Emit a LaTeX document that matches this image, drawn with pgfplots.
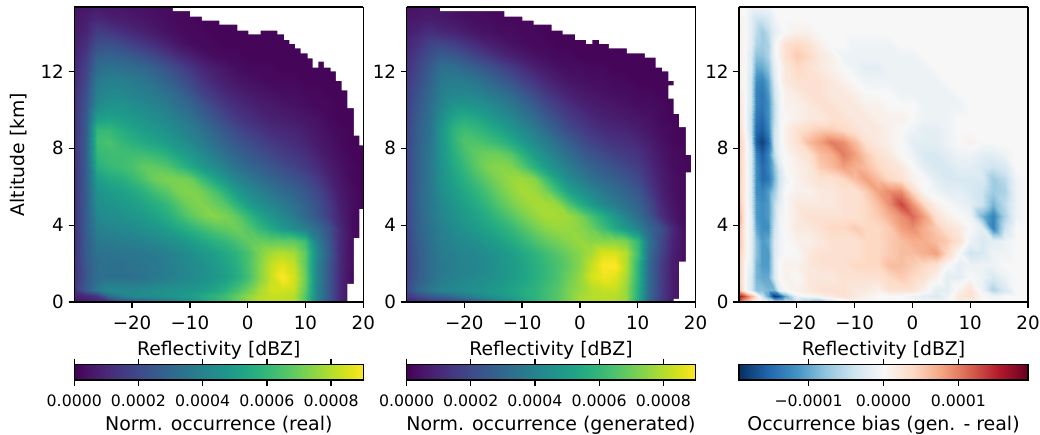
\documentclass[border=0pt]{standalone}
\usepackage{fontspec}
\setmainfont{DejaVu Sans}
\usepackage{pgfplots}
\usepackage{pgfplotstable}
\pgfplotsset{compat=1.18}
\pgfplotstableread[header=true]{
y -30 -28 -26 -24 -22 -20 -18 -16 -14 -12 -10 -8 -6 -4 -2 0 2 4 6 8 10 12 14 16 18 20
15.36 4 5 6 5 5 4 4 3 3 2 2 1 1 1 1 1 1 1 1 1 1 1 1 1 1 1
14.72 5 7 10 8 7 6 5 4 3 2 2 1 1 1 1 1 1 1 1 1 1 1 1 1 1 1
14.08 6 9 16 15 12 10 8 6 4 3 2 2 1 1 1 1 1 1 1 1 1 1 1 1 1 1
13.44 7 12 21 22 20 17 14 11 8 5 3 2 2 1 1 1 1 1 1 1 1 1 1 1 1 1
12.8 8 15 27 28 27 25 22 19 15 11 8 5 3 2 2 1 1 1 1 1 1 1 1 1 1 1
12.16 9 18 31 34 33 32 30 27 23 19 14 10 7 5 3 2 2 2 1 1 1 1 1 1 1 1
11.52 10 20 36 39 39 37 35 32 28 24 19 14 10 7 5 4 3 2 2 2 1 1 1 1 1 1
10.88 11 22 39 42 42 40 38 36 33 29 24 18 14 10 8 6 5 4 3 3 2 2 1 1 1 1
10.24 12 24 42 46 46 44 42 40 37 33 29 24 19 14 11 9 7 6 5 4 3 2 2 1 1 1
9.6 12 25 50 52 50 48 46 44 41 38 34 29 24 19 15 12 10 8 7 6 5 4 2 1 1 1
8.96 12 26 60 60 56 53 50 48 45 42 38 34 29 24 20 16 14 11 10 9 7 5 3 2 1 1
8.32 12 27 62 64 60 57 54 52 49 46 42 38 33 28 24 21 18 15 13 11 9 6 4 2 1 1
7.68 12 27 60 62 62 62 62 60 57 52 48 43 38 33 29 25 22 19 16 14 12 8 5 3 1 1
7.04 12 27 56 60 62 64 68 68 66 61 55 49 44 39 34 30 27 24 21 18 15 11 7 4 2 1
6.4 12 27 50 54 56 60 65 70 72 72 70 62 54 47 41 37 33 29 26 23 20 15 9 5 2 1
5.76 12 27 46 49 51 54 58 63 67 72 73 71 65 57 49 43 39 35 31 28 24 19 12 6 3 1
5.12 12 27 44 46 48 50 53 56 60 66 71 73 70 66 58 50 45 41 37 33 28 22 15 7 3 1
4.48 12 27 42 44 45 47 49 52 56 61 67 71 74 72 68 60 53 47 42 37 30 24 16 8 3 1
3.84 12 27 39 41 42 43 45 47 50 54 58 62 66 68 70 66 60 54 48 43 38 32 22 10 3 1
3.2 12 26 36 37 38 39 40 42 44 46 49 53 57 60 64 68 69 68 68 68 62 38 24 10 3 1
2.56 12 26 34 34 35 35 36 37 39 41 44 47 50 54 58 64 72 78 80 78 68 42 26 10 3 1
1.92 12 25 32 33 33 34 35 36 38 40 43 45 48 52 56 64 73 82 86 82 68 40 24 10 3 1
1.28 12 24 32 33 33 33 34 36 38 40 42 44 47 50 55 63 73 83 90 84 70 40 24 10 2 1
0.64 13 26 36 42 42 42 43 44 45 46 47 49 52 57 63 70 78 84 84 82 68 40 24 10 2 1
0.3 8 10 14 30 38 42 43 44 46 47 50 54 58 62 68 75 80 82 82 80 66 40 24 10 2 1
0 5 6 8 12 20 22 26 30 34 38 44 50 56 62 68 75 80 82 82 80 66 40 22 8 2 1
}\tableReal
\pgfplotstableread[header=true]{
y -30 -28 -26 -24 -22 -20 -18 -16 -14 -12 -10 -8 -6 -4 -2 0 2 4 6 8 10 12 14 16 18 20
15.36 4 5 5 5 4 3 3 2 2 2 1 1 1 1 1 1 1 1 1 1 1 1 1 1 1 1
14.72 5 6 7 6 5 4 3 3 2 2 2 1 1 1 1 1 1 1 1 1 1 1 1 1 1 1
14.08 7 9 12 10 9 7 5 4 3 3 2 2 1 1 1 1 1 1 1 1 1 1 1 1 1 1
13.44 9 13 18 19 17 14 11 8 6 4 3 2 2 1 1 1 1 1 1 1 1 1 1 1 1 1
12.8 11 16 22 26 25 22 18 15 11 8 6 4 3 2 2 1 1 1 1 1 1 1 1 1 1 1
12.16 13 19 26 33 33 30 27 24 20 16 12 8 6 4 3 3 2 2 1 1 1 1 1 1 1 1
11.52 15 21 28 36 38 37 35 31 27 23 18 14 10 7 5 4 3 3 2 2 1 1 1 1 1 1
10.88 16 23 30 38 41 41 40 37 34 30 25 20 15 11 8 6 5 4 3 3 2 2 1 1 1 1
10.24 17 25 32 40 46 47 46 44 40 36 31 26 20 16 12 9 7 6 5 4 3 3 2 1 1 1
9.6 18 26 33 44 53 56 54 50 46 42 37 32 26 21 16 13 10 8 7 6 5 4 2 1 1 1
8.96 19 27 34 47 58 62 60 57 53 48 43 38 32 26 21 17 14 11 10 9 7 5 3 2 1 1
8.32 19 27 35 47 58 65 65 63 60 55 49 43 38 32 27 22 18 15 13 12 10 7 4 2 1 1
7.68 20 28 36 47 56 63 68 70 70 66 58 50 44 38 32 27 23 20 17 15 13 9 5 3 2 1
7.04 20 28 36 46 54 60 67 72 74 73 67 58 50 44 38 33 28 25 22 19 16 11 6 3 2 1
6.4 20 28 36 45 52 57 63 68 73 76 77 74 63 52 44 39 34 30 27 24 20 13 7 4 2 1
5.76 20 29 36 44 49 54 59 64 70 75 78 77 72 62 52 46 41 36 32 28 24 16 8 4 2 1
5.12 20 29 35 42 47 51 55 60 66 71 75 78 78 76 66 56 49 42 37 33 28 20 10 5 2 1
4.48 20 28 35 41 45 48 52 56 61 66 71 75 78 78 77 72 64 56 48 40 32 24 12 6 2 1
3.84 19 28 34 39 43 46 49 52 56 60 65 70 74 76 76 74 70 62 54 47 40 30 22 10 3 1
3.2 19 27 33 38 41 43 45 48 51 55 59 64 68 71 74 76 74 74 74 72 60 34 20 9 3 1
2.56 18 26 32 37 39 41 42 44 47 50 54 58 62 66 70 74 78 85 85 80 62 32 18 8 3 1
1.92 18 26 32 36 38 40 41 43 46 49 52 56 60 64 68 74 82 90 92 80 58 30 16 7 3 1
1.28 18 26 32 37 39 41 42 44 46 49 52 56 60 64 70 76 84 88 86 78 58 30 16 7 3 1
0.64 20 30 36 40 42 44 46 47 49 52 55 58 62 66 72 76 80 82 82 76 56 30 16 7 2 1
0.3 14 20 25 28 32 36 40 44 47 50 54 58 62 66 72 78 80 81 80 76 56 30 16 7 2 1
0 8 10 12 14 16 20 26 32 38 44 50 56 62 66 72 78 80 80 80 76 54 28 14 5 2 1
}\tableGen
\pgfplotstableread[header=true]{
y -30 -29 -28 -27 -26 -25 -24 -23 -22 -20 -18 -16 -14 -12 -10 -8 -6 -4 -2 0 2 4 6 8 10 12 14 16 18 20
15.36 0 0 -1 -1 -1 -1 0 0 0 0 0 0 0 0 0 0 0 0 0 0 0 0 0 0 0 0 0 0 0 0
14.72 1 0 -2 -4 -4 -3 -1 0 0 0 0 0 0 0 0 0 0 0 0 0 0 0 0 0 0 0 0 0 0 0
14.08 1 0 -2 -5 -7 -5 -2 -1 0 1 1 0 0 0 0 0 0 0 0 0 0 0 0 0 0 0 0 0 0 0
13.44 1 0 -2 -6 -7 -6 -1 1 3 4 3 1 0 0 -1 -1 -1 -1 0 0 0 0 0 0 0 0 0 0 0 0
12.8 1 0 -3 -8 -8 -6 -1 1 3 5 4 2 1 -1 -1 -1 -1 -1 -1 -1 0 0 0 0 0 0 0 0 0 0
12.16 1 0 -3 -10 -10 -8 -2 0 2 4 3 2 1 0 -1 -2 -2 -1 -1 -1 -1 0 0 0 0 0 0 0 0 0
11.52 1 0 -4 -12 -13 -10 -3 0 2 3 3 3 2 1 0 -1 -1 -1 -1 -1 -1 -1 0 0 0 0 0 0 0 0
10.88 2 0 -4 -13 -14 -11 -4 -1 1 2 3 3 2 2 1 0 0 0 -1 -1 -1 -1 -1 0 0 0 0 0 0 0
10.24 3 0 -4 -13 -14 -12 -5 -1 1 1 2 3 3 2 2 1 1 0 0 0 -1 -1 -1 -1 0 0 0 0 0 0
9.6 3 0 -5 -14 -15 -12 -5 -1 0 1 2 2 3 3 2 2 1 1 1 0 -1 -1 -1 0 0 0 0 0 0 0
8.96 4 0 -5 -15 -16 -13 -4 -1 1 3 4 5 5 4 3 2 2 1 0 -1 -2 -2 -1 0 0 0 0 0 0 0
8.32 5 1 -4 -16 -18 -15 -4 -1 1 3 6 8 10 9 6 3 2 1 0 -2 -2 -2 -1 0 1 0 0 0 0 0
7.68 5 1 -3 -13 -16 -13 -5 -1 0 2 3 6 7 10 8 5 3 2 0 -1 -3 -3 -2 -1 -1 -2 -2 -1 0 0
7.04 5 1 -3 -12 -15 -13 -8 -3 0 1 2 5 6 8 7 6 4 3 2 0 -2 -3 -3 -2 -2 -3 -4 -3 0 0
6.4 5 1 -3 -12 -15 -14 -9 -4 -1 1 2 3 3 4 6 8 6 4 3 1 0 -2 -3 -3 -3 -3 -7 -5 -1 0
5.76 5 1 -3 -12 -13 -11 -7 -3 0 1 1 2 2 3 3 5 8 9 9 4 0 -1 -2 -2 -3 -4 -7 -6 -1 0
5.12 6 1 -3 -11 -12 -11 -5 -2 0 2 2 2 2 3 3 4 6 9 13 9 4 1 0 -1 -2 -4 -9 -5 -1 0
4.48 7 1 -2 -11 -12 -11 -5 -1 0 2 3 3 3 3 3 4 5 7 9 11 8 3 1 0 -1 -9 -13 -6 -1 0
3.84 6 1 -2 -10 -12 -12 -4 -1 0 2 2 3 4 4 5 4 4 5 8 9 7 5 3 2 0 -2 -13 -4 0 0
3.2 6 1 -2 -8 -11 -10 -3 -1 0 1 1 2 3 3 3 4 4 5 6 7 7 6 5 3 -1 -3 -2 -1 0 0
2.56 5 1 -2 -8 -11 -11 -3 -1 0 0 2 3 3 3 3 4 4 5 6 6 7 8 4 0 -4 -3 -1 -1 0 0
1.92 5 0 -2 -9 -11 -11 -3 0 1 1 2 3 3 3 4 4 4 6 6 5 4 3 0 -2 -1 -1 -1 0 0 0
1.28 5 0 -3 -9 -10 -10 -3 0 1 0 2 2 2 3 3 3 3 4 5 4 3 1 -2 -2 0 -1 -3 -1 0 0
0.64 6 0 -3 -8 -8 -9 -9 -2 0 1 2 3 3 3 2 2 1 3 3 3 1 -2 -2 1 3 -1 -6 -3 0 0
0.3 16 12 7 3 -4 -10 -19 -17 -10 -1 0 1 2 3 2 1 0 0 0 -1 -2 -3 -1 2 3 0 -1 0 0 0
0 12 6 3 0 -1 -2 -3 -4 -4 -4 -8 -10 -5 -2 0 0 0 0 0 0 -1 0 0 2 1 0 0 0 0 0
}\tableBias
\newcommand{\buildcoords}[2]{%
  \pgfplotstablegetrowsof{#1}\pgfmathtruncatemacro\nr{\pgfplotsretval-1}%
  \pgfplotstablegetcolsof{#1}\pgfmathtruncatemacro\nc{\pgfplotsretval-1}%
  \gdef#2{}%
  \pgfplotsforeachungrouped \r in {0,...,\nr}{%
    \pgfplotstablegetelem{\r}{[index]0}\of{#1}\let\yv\pgfplotsretval
    \pgfplotsforeachungrouped \c in {1,...,\nc}{%
      \pgfplotstablegetelem{\r}{[index]\c}\of{#1}\let\zv\pgfplotsretval
      \pgfplotstablegetcolumnnamebyindex{\c}\of{#1}\to\xv
      \xdef#2{#2 (\xv,\yv,\zv)}%
    }%
  }%
}
\buildcoords{\tableReal}{\coordsReal}
\buildcoords{\tableGen}{\coordsGen}
\buildcoords{\tableBias}{\coordsBias}
\pgfplotsset{
  colormap={rdbu}{rgb255=(5,48,97) rgb255=(33,102,172) rgb255=(67,147,195) rgb255=(146,197,222) rgb255=(209,229,240) rgb255=(247,247,247) rgb255=(253,219,199) rgb255=(244,165,130) rgb255=(214,96,77) rgb255=(178,24,43) rgb255=(103,0,31)},
  panel/.style={
    scale only axis, width=216.75pt, height=221.25pt,
    anchor=south west, view={0}{90},
    xmin=-30, xmax=20, ymin=0, ymax=15.36,
    xtick={-20,-10,0,10,20}, xticklabels={−20,−10,0,10,20},
    ytick={0,4,8,12}, yticklabels={0,4,8,12},
    tick pos=left, tick align=outside,
    axis on top, axis line style={line width=1pt}, tick style={line width=1pt, black},
    major tick length=4.3pt,
    tick label style={font=\fontsize{13.7pt}{15pt}\selectfont},
    xticklabel style={yshift=-2.4pt},
    label style={font=\fontsize{14.1pt}{16pt}\selectfont},
    xlabel={Reflectivity [dBZ]},
    xlabel style={at={(0.5,0)}, anchor=north, yshift=-26pt},
    colorbar horizontal,
  },
  cbar/.style={
    at={(0,-0.2115)}, anchor=north west,
    scale only axis, width=216.75pt, height=11.6pt,
    axis line style={line width=1pt}, tick style={line width=1pt, black},
    major tick length=4.3pt, tick align=outside,
    xticklabel pos=lower,
    tick label style={font=\fontsize{11.8pt}{13pt}\selectfont},
    xticklabel style={yshift=-3.2pt},
    label style={font=\fontsize{14.2pt}{16pt}\selectfont},
    xlabel style={at={(0.5,0)}, anchor=north, yshift=-24pt},
  },
  vircbar/.style={cbar,
    xtick={0,20,40,60,80},
    xticklabels={0.0000,0.0002,0.0004,0.0006,0.0008},
    xlabel={#1}},
  bicbar/.style={cbar,
    xtick={-10,0,10},
    xticklabels={−0.0001,0.0000,0.0001},
    xlabel={#1}},
}
\begin{document}
\begin{tikzpicture}
\path[use as bounding box] (0,0) rectangle (780pt,326.25pt);
\begin{axis}[panel, at={(55.7pt,99.75pt)}, colormap/viridis,
  point meta min=0, point meta max=90,
  ylabel={Altitude [km]},
  ylabel style={at={(0,0.5)}, anchor=south, rotate=0, yshift=32pt},
  colorbar style={vircbar={Norm. occurrence (real)}}]
\edef\tmp{\noexpand\addplot3[surf,shader=interp,mesh/cols=26] coordinates {\coordsReal};}\tmp
\addplot3[fill=white,draw=none,no markers] coordinates {
(-12.95,15.36,0)(-12.95,15.14,0)(-9.95,15.14,0)(-9.95,14.86,0)(-7.94,14.86,0)(-7.94,14.65,0)(-4.88,14.65,0)(-4.88,14.44,0)(-1.77,14.44,0)(-1.77,14.13,0)(0.13,14.13,0)(0.13,13.94,0)(2.26,13.94,0)(2.26,14.13,0)(5.14,14.13,0)(5.14,13.94,0)(6.29,13.94,0)(6.29,13.65,0)(7.21,13.65,0)(7.21,13.44,0)(8.19,13.44,0)(8.19,13.21,0)(9.17,13.21,0)(9.17,12.95,0)(10.38,12.95,0)(10.38,12.69,0)(11.24,12.69,0)(11.24,12.2,0)(12.22,12.2,0)(12.22,12.52,0)(13.2,12.52,0)(13.2,12.2,0)(14.35,12.2,0)(14.35,12.01,0)(15.28,12.01,0)(15.28,11.51,0)(16.26,11.51,0)(16.26,11.02,0)(17.24,11.02,0)(17.24,10.09,0)(18.39,10.09,0)(18.39,8.66,0)(19.31,8.66,0)(19.31,8.16,0)(20,8.16,0)(20,4.83,0)(19.31,4.83,0)(19.31,3.32,0)(18.39,3.32,0)(18.39,0.95,0)(17.24,0.95,0)(17.24,0,0)(20,0,0)(20,15.36,0)
};
\end{axis}
\begin{axis}[panel, at={(304.9pt,99.75pt)}, colormap/viridis,
  point meta min=0, point meta max=90,
  colorbar style={vircbar={Norm. occurrence (generated)}}]
\edef\tmp{\noexpand\addplot3[surf,shader=interp,mesh/cols=26] coordinates {\coordsGen};}\tmp
\addplot3[fill=white,draw=none,no markers] coordinates {
(-24.18,15.36,0)(-24.18,15.14,0)(-13.06,15.14,0)(-13.06,14.86,0)(-9.95,14.86,0)(-9.95,14.65,0)(-8,14.65,0)(-8,14.44,0)(-4.9,14.44,0)(-4.9,14.13,0)(-2.98,14.13,0)(-2.98,13.94,0)(-0.85,13.94,0)(-0.85,13.65,0)(1.05,13.65,0)(1.05,13.44,0)(2.14,13.44,0)(2.14,13.65,0)(3.3,13.65,0)(3.3,13.44,0)(5.02,13.44,0)(5.02,13.21,0)(8.13,13.21,0)(8.13,12.95,0)(11.24,12.95,0)(11.24,12.73,0)(13.09,12.73,0)(13.09,12.2,0)(14.24,12.2,0)(14.24,12.01,0)(15.28,12.01,0)(15.28,11.51,0)(16.2,11.51,0)(16.2,11.28,0)(15.28,11.28,0)(15.28,10.59,0)(16.2,10.59,0)(16.2,9.79,0)(17.18,9.79,0)(17.18,9.1,0)(18.33,9.1,0)(18.33,7.66,0)(19.25,7.66,0)(19.25,6.75,0)(18.33,6.75,0)(18.33,2.1,0)(17.18,2.1,0)(17.18,0.16,0)(16.2,0.16,0)(16.2,0,0)(20,0,0)(20,15.36,0)
};
\end{axis}
\begin{axis}[panel, at={(554.25pt,99.75pt)}, colormap name=rdbu,
  point meta min=-19.3, point meta max=19.3,
  colorbar style={bicbar={Occurrence bias (gen. - real)}}]
\edef\tmp{\noexpand\addplot3[surf,shader=interp,mesh/cols=30] coordinates {\coordsBias};}\tmp
\end{axis}
\end{tikzpicture}
\end{document}
